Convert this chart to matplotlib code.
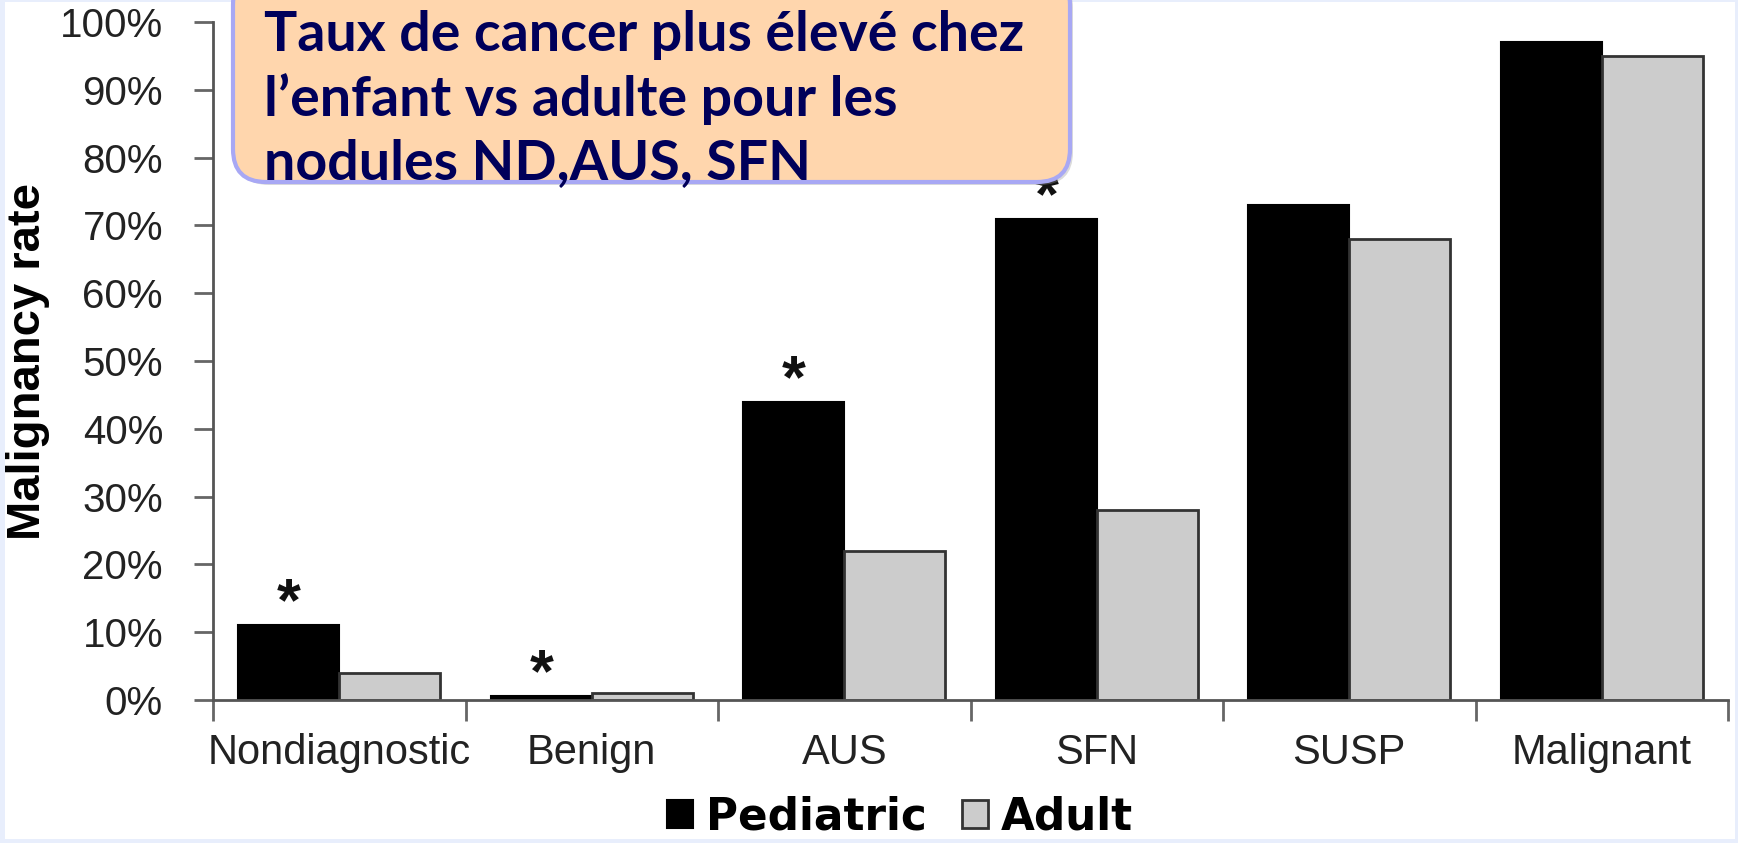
import numpy as np
import matplotlib.pyplot as plt
from matplotlib.patches import FancyBboxPatch, Rectangle
from matplotlib.transforms import IdentityTransform

plt.rcParams['font.family'] = ['Liberation Sans', 'DejaVu Sans']

categories = ['Nondiagnostic', 'Benign', 'AUS', 'SFN', 'SUSP', 'Malignant']
pediatric = [11, 0.6, 44, 71, 73, 97]
adult = [4, 1.1, 22, 28, 68, 95]
significant = [True, True, True, True, False, False]
yticks = np.arange(0, 101, 10)
box_lines = ['Taux de cancer plus élevé chez',
             'l\u2019enfant vs adulte pour les',
             'nodules ND,AUS, SFN']

W, H = 1738, 843
fig = plt.figure(figsize=(W / 100, H / 100), dpi=100, facecolor='#e8eefc')
fig.add_artist(Rectangle((5 / W, 4 / H), (W - 8) / W, (H - 6) / H,
                         transform=fig.transFigure, facecolor='white',
                         edgecolor='none', zorder=-1))

ax = fig.add_axes([213 / W, 143 / H, 1515 / W, 678 / H])
ax.set_facecolor('none')

x = np.arange(len(categories))
w = 0.4
ax.bar(x - w / 2, pediatric, w, color='black', edgecolor='black', linewidth=1.5,
       label='Pediatric')
ax.bar(x + w / 2, adult, w, color='#cccccc', edgecolor='#333333', linewidth=2,
       label='Adult')

# stars over pediatric bars
for i, s in enumerate(significant):
    if s:
        ax.text(x[i] - w / 2, pediatric[i] + 3.0, '*', ha='center', va='center',
                fontsize=44, fontweight='bold', color='#111111')

ax.set_xlim(-0.5, 5.5)
ax.set_ylim(0, 100)
ax.spines[['top', 'right']].set_visible(False)
for sp in ['left', 'bottom']:
    ax.spines[sp].set_color('#555555')
    ax.spines[sp].set_linewidth(2)

ax.set_yticks(yticks)
ax.set_yticklabels([f'{v}%' for v in yticks])
ax.tick_params(axis='y', direction='out', length=14, width=2, color='#666666',
               pad=22, labelsize=29, labelcolor='#222222')
ax.set_xticks(x)
ax.set_xticklabels(categories)
ax.tick_params(axis='x', which='major', length=0, pad=24, labelsize=30,
               labelcolor='#222222')
ax.set_xticks(np.arange(-0.5, 6, 1), minor=True)
ax.tick_params(axis='x', which='minor', direction='out', length=15, width=2,
               color='#666666')

ax.set_ylabel('Malignancy rate', fontsize=34, fontweight='bold', va='center')
ax.yaxis.set_label_coords(-0.122, 0.5)

ax.legend(loc='center', bbox_to_anchor=(900 / W, 26 / H),
          bbox_transform=fig.transFigure, ncol=2, frameon=False,
          prop={'family': 'DejaVu Sans', 'size': 31.5, 'weight': 'bold'},
          handlelength=0.6, handleheight=0.6, handletextpad=0.3,
          columnspacing=0.8, borderpad=0)

# annotation box (pixel coordinates)
shadow = FancyBboxPatch((236, H - 185), 1070 - 233, 210,
                        boxstyle='round,pad=0,rounding_size=33',
                        transform=IdentityTransform(), facecolor='#999999',
                        edgecolor='none', alpha=0.35, zorder=2)
box = FancyBboxPatch((233, H - 182), 1070 - 233, 210,
                     boxstyle='round,pad=0,rounding_size=33',
                     transform=IdentityTransform(), facecolor='#ffd6ad',
                     edgecolor='#a8a8f4', linewidth=3, zorder=3)
fig.add_artist(shadow)
fig.add_artist(box)

for line, base in zip(box_lines, [51, 116, 179]):
    fig.text(264 / W, 1 - base / H, line, family='Lato', fontweight='bold',
             fontsize=40, color='#00005a', va='baseline', zorder=4)

fig.savefig('out.png', dpi=100, facecolor=fig.get_facecolor())
